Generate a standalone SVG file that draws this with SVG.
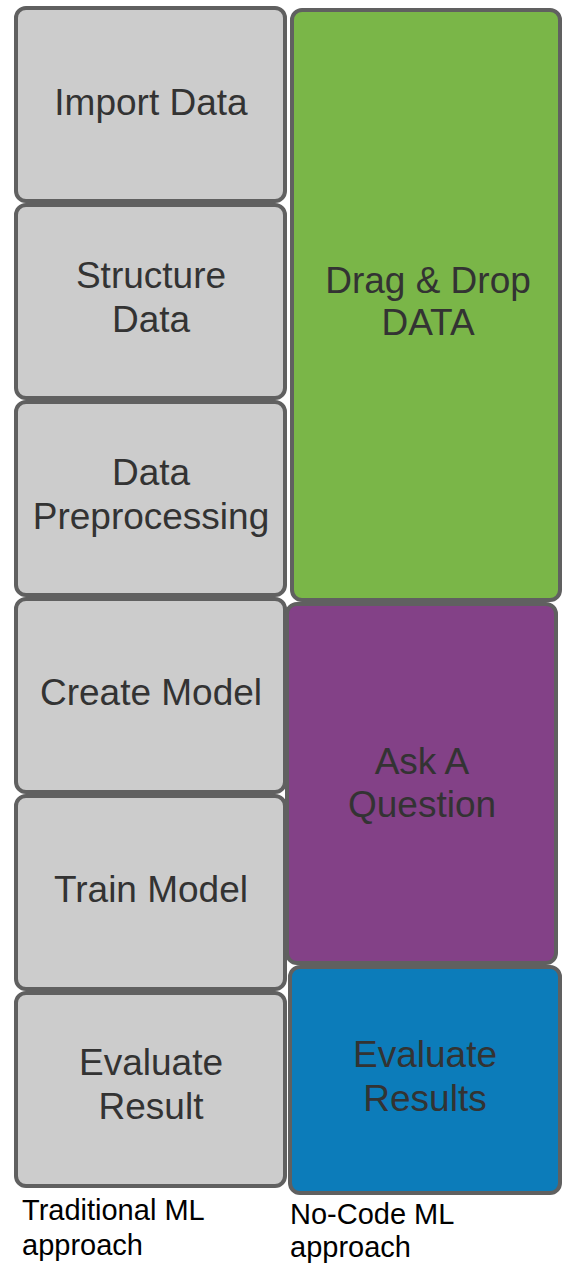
<svg xmlns="http://www.w3.org/2000/svg" width="564" height="1265" viewBox="0 0 564 1265">
  <style>
    .box { stroke: #606060; stroke-width: 4; }
    .grey { fill: #cccccc; }
    .green { fill: #7ab648; }
    .purple { fill: #834187; }
    .blue { fill: #0c7cba; }
    .lbl { font-family: "Liberation Sans", Arial, sans-serif; font-size: 37px; fill: #333333; text-anchor: middle; }
    .cap { font-family: "Liberation Sans", Arial, sans-serif; font-size: 29px; fill: #000000; }
  </style>
  <rect width="564" height="1265" fill="#ffffff"/>

  <!-- traditional pipeline: six stacked steps -->
  <g id="import-data">
    <rect class="box grey" x="16" y="8" width="269" height="193" rx="10"/>
    <text class="lbl" x="151" y="115">Import Data</text>
  </g>
  <g id="structure-data">
    <rect class="box grey" x="16" y="205" width="269" height="193" rx="10"/>
    <text class="lbl" x="151" y="288">Structure</text>
    <text class="lbl" x="151" y="332">Data</text>
  </g>
  <g id="data-preprocessing">
    <rect class="box grey" x="16" y="402" width="269" height="193" rx="10"/>
    <text class="lbl" x="151" y="485">Data</text>
    <text class="lbl" x="151" y="529">Preprocessing</text>
  </g>
  <g id="create-model">
    <rect class="box grey" x="16" y="599" width="269" height="193" rx="10"/>
    <text class="lbl" x="151" y="705">Create Model</text>
  </g>
  <g id="train-model">
    <rect class="box grey" x="16" y="796" width="269" height="193" rx="10"/>
    <text class="lbl" x="151" y="902">Train Model</text>
  </g>
  <g id="evaluate-result">
    <rect class="box grey" x="16" y="993" width="269" height="193" rx="10"/>
    <text class="lbl" x="151" y="1075">Evaluate</text>
    <text class="lbl" x="151" y="1119">Result</text>
  </g>

  <!-- no-code pipeline: three steps -->
  <g id="drag-drop-data">
    <rect class="box green" x="292" y="10" width="268" height="590" rx="10"/>
    <text class="lbl" x="428" y="293">Drag &amp; Drop</text>
    <text class="lbl" x="428" y="335">DATA</text>
  </g>
  <g id="ask-a-question">
    <rect class="box purple" x="287" y="604" width="269" height="359" rx="10"/>
    <text class="lbl" x="422" y="774">Ask A</text>
    <text class="lbl" x="422" y="817">Question</text>
  </g>
  <g id="evaluate-results">
    <rect class="box blue" x="290" y="967" width="270" height="226" rx="10"/>
    <text class="lbl" x="425" y="1067">Evaluate</text>
    <text class="lbl" x="425" y="1111">Results</text>
  </g>

  <g id="connectors"></g>

  <!-- column captions -->
  <g id="captions">
    <text class="cap" x="22" y="1220">Traditional ML</text>
    <text class="cap" x="22" y="1255">approach</text>
    <text class="cap" x="290" y="1224">No-Code ML</text>
    <text class="cap" x="290" y="1257">approach</text>
  </g>
</svg>
